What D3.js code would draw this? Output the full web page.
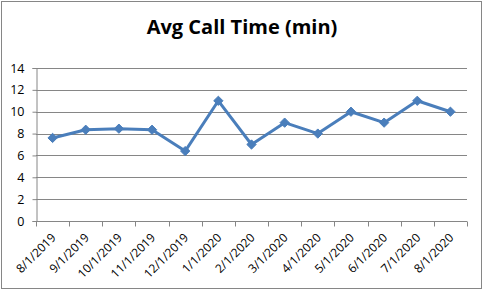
<!DOCTYPE html>
<html>
<head>
<meta charset="utf-8">
<script src="https://cdn.jsdelivr.net/npm/d3@7"></script>
<style>
  body { margin: 0; background: #fff; }
  text { font-family: "Open Sans", sans-serif; }
</style>
</head>
<body>
<svg id="chart"></svg>
<script>
// chart data
const months = ['8/1/2019', '9/1/2019', '10/1/2019', '11/1/2019', '12/1/2019', '1/1/2020',
  '2/1/2020', '3/1/2020', '4/1/2020', '5/1/2020', '6/1/2020', '7/1/2020', '8/1/2020'];
const avgCallTime = [7.6, 8.35, 8.45, 8.35, 6.4, 11, 7, 9, 8, 10, 9, 11, 10];
const yTicks = [0, 2, 4, 6, 8, 10, 12, 14];

const width = 483, height = 292;
const margin = {top: 68, right: 16, bottom: 71, left: 36};
const font = '"Open Sans", sans-serif';

const svg = d3.select('#chart')
    .attr('width', width)
    .attr('height', height);

// chart frame
svg.append('rect')
    .attr('x', 1.5).attr('y', 1.5)
    .attr('width', 480).attr('height', 287)
    .attr('fill', '#fff')
    .attr('stroke', '#868686');

svg.append('text')
    .attr('x', 242)
    .attr('y', 34)
    .attr('text-anchor', 'middle')
    .attr('font-size', '20px')
    .attr('font-weight', 'bold')
    .text('Avg Call Time (min)');

const innerW = width - margin.left - margin.right;
const innerH = height - margin.top - margin.bottom;

const x = d3.scaleBand().domain(months).range([0, innerW]);
const y = d3.scaleLinear().domain([0, 14]).range([innerH, 0]);

const g = svg.append('g')
    .attr('transform', `translate(${margin.left},${margin.top})`);

// gridlines
g.selectAll('.grid')
  .data(yTicks.filter(d => d > 0))
  .join('line')
    .attr('x1', 0).attr('x2', innerW)
    .attr('y1', d => Math.round(y(d)) + 0.5)
    .attr('y2', d => Math.round(y(d)) + 0.5)
    .attr('stroke', '#868686');

// y axis
const yAxis = d3.axisLeft(y).tickValues(yTicks).tickSize(4).tickPadding(8);
const yG = g.append('g').attr('transform', 'translate(0.5,0)').call(yAxis);
yG.select('.domain').attr('stroke', '#868686');
yG.selectAll('.tick line').attr('stroke', '#868686');
yG.selectAll('.tick text').attr('font-size', '12.5px').attr('fill', '#000')
    .style('font-family', font);

// x axis: ticks at band boundaries
const xG = g.append('g').attr('transform', `translate(0,${Math.round(innerH) + 0.5})`);
xG.append('line')
    .attr('x1', 0).attr('x2', innerW)
    .attr('stroke', '#868686');
xG.selectAll('.xtick')
  .data(d3.range(months.length + 1))
  .join('line')
    .attr('x1', i => Math.round(i * x.step()) + 0.5)
    .attr('x2', i => Math.round(i * x.step()) + 0.5)
    .attr('y1', 0).attr('y2', 5)
    .attr('stroke', '#868686');
xG.selectAll('.xlabel')
  .data(months)
  .join('text')
    .attr('text-anchor', 'end')
    .attr('font-size', '12px')
    .attr('transform', d => `translate(${x(d) + x.bandwidth() / 2 + 4},17) rotate(-45)`)
    .text(d => d);

// line series
const line = d3.line()
    .x((d, i) => x(months[i]) + x.bandwidth() / 2)
    .y(d => y(d));

g.append('path')
    .datum(avgCallTime)
    .attr('fill', 'none')
    .attr('stroke', '#4A7EBB')
    .attr('stroke-width', 3)
    .attr('stroke-linejoin', 'round')
    .attr('d', line);

g.selectAll('.marker')
  .data(avgCallTime)
  .join('path')
    .attr('d', d3.symbol(d3.symbolDiamond2, 55))
    .attr('transform', (d, i) => `translate(${x(months[i]) + x.bandwidth() / 2},${y(d)})`)
    .attr('fill', '#4A7EBB')
    .attr('stroke', '#4A7EBB');
</script>
</body>
</html>
